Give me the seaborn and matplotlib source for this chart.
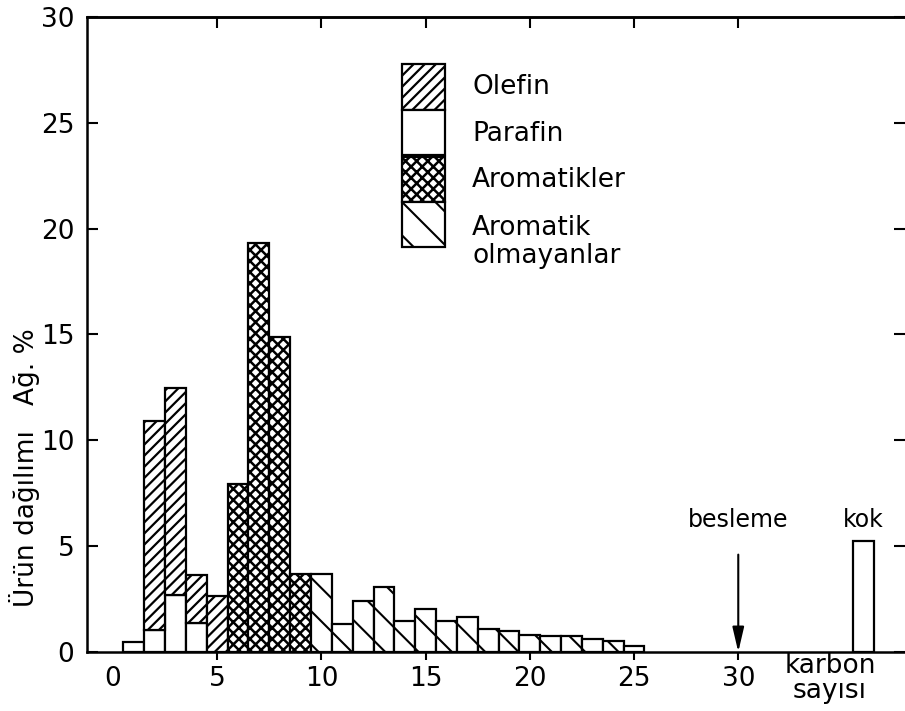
import matplotlib
matplotlib.use('Agg')
import matplotlib.pyplot as plt
from matplotlib.patches import Rectangle
import pandas as pd
import seaborn as sns

# weight-% per carbon number
paraffin_c = [1, 2, 3, 4]
paraffin = [0.45, 1.05, 2.7, 1.35]
olefin_c = [2, 3, 4, 5]
olefin = [9.85, 9.75, 2.3, 2.65]
aromatic_c = [6, 7, 8, 9]
aromatic = [7.95, 19.3, 14.9, 3.7]
nonarom_c = list(range(10, 26))
nonarom = [3.7, 1.3, 2.4, 3.05, 1.45, 2.05, 1.45, 1.65,
           1.1, 1.0, 0.8, 0.75, 0.75, 0.6, 0.5, 0.3]
coke_c = [36]
coke = [5.25]
feed_c = 30

legend_labels = ['Olefin', 'Parafin', 'Aromatikler', 'Aromatik\nolmayanlar']
legend_hatch = ['///', '', 'xxx', '\\']
xticks = [0, 5, 10, 15, 20, 25, 30]
yticks = [0, 5, 10, 15, 20, 25, 30]

sns.set_style('ticks')
plt.rcParams['font.family'] = ['DejaVu Sans']
plt.rcParams['hatch.color'] = 'black'
for k in ['text.color', 'axes.labelcolor', 'xtick.color', 'ytick.color',
          'axes.edgecolor']:
    plt.rcParams[k] = 'black'

fig = plt.figure(figsize=(9.05, 7.11), dpi=100)
ax = fig.add_axes([0.0961, 0.083, 0.9039, 0.8931])

hatch_lw = {'': 1.0, '///': 1.6, 'xxx': 1.8, '\\': 1.5}


def layer(cs, vals, hatch, bottom=None):
    plt.rcParams['hatch.linewidth'] = hatch_lw[hatch]
    n0 = len(ax.patches)
    df = pd.DataFrame({'c': cs, 'v': vals})
    kw = {} if bottom is None else {'bottom': bottom}
    sns.barplot(data=df, x='c', y='v', native_scale=True, width=1,
                color='white', saturation=1, edgecolor='black',
                linewidth=1.6, errorbar=None, hatch=hatch, ax=ax, **kw)
    for p in ax.patches[n0:]:
        if hasattr(p, 'set_hatch_linewidth'):
            p.set_hatch_linewidth(hatch_lw[hatch])


par_lookup = dict(zip(paraffin_c, paraffin))
layer(paraffin_c, paraffin, '')
layer(olefin_c, olefin, '///', bottom=[par_lookup.get(c, 0) for c in olefin_c])
layer(aromatic_c, aromatic, 'xxx')
layer(nonarom_c, nonarom, '\\')
layer(coke_c, coke, '')
plt.rcParams['hatch.linewidth'] = 1.6

ax.set_xlim(-1.25, 38.0)
ax.set_ylim(0, 30)
ax.set_xticks(xticks)
ax.set_yticks(yticks)
ax.set_xticklabels([str(t) for t in xticks])
ax.set_yticklabels([str(t) for t in yticks])
ax.set_xlabel('')
ax.set_ylabel('Ürün dağılımı   Ağ. %', fontsize=19)
ax.yaxis.set_label_coords(-0.058, 0.291)

for s in ['left', 'bottom', 'top']:
    ax.spines[s].set_linewidth(1.8)
ax.spines['right'].set_visible(False)

ax.tick_params(axis='y', direction='in', length=8, width=1.5, left=True,
               right=True, labelsize=19, pad=9)
ax.tick_params(axis='x', direction='out', length=6, width=1.5,
               labelsize=19, pad=4)
ax.xaxis.get_major_ticks()[0].tick1line.set_visible(False)

top = ax.secondary_xaxis('top')
top.set_xticks(xticks[1:])
top.set_xticklabels([])
top.tick_params(direction='in', length=8, width=1.5)
top.spines['top'].set_linewidth(1.8)

# legend keys stacked as in the original
box_top = [0.926, 0.854, 0.780, 0.709]
text_y = [0.889, 0.815, 0.744, 0.646]
for h, yt, lab, ty in zip(legend_hatch, box_top, legend_labels, text_y):
    plt.rcParams['hatch.linewidth'] = hatch_lw[h]
    r = Rectangle((0.385, yt - 0.072), 0.0526, 0.072, transform=ax.transAxes,
                  facecolor='white', edgecolor='black', lw=1.6, hatch=h)
    if hasattr(r, 'set_hatch_linewidth'):
        r.set_hatch_linewidth(hatch_lw[h])
    ax.add_patch(r)
    ax.text(0.471, ty, lab, transform=ax.transAxes, ha='left', va='center',
            fontsize=19, linespacing=1.1)
plt.rcParams['hatch.linewidth'] = 1.6

# feed arrow and labels
ax.annotate('', xy=(feed_c, 0), xytext=(feed_c, 4.6),
            arrowprops=dict(arrowstyle='-|>,head_length=1.5,head_width=0.35',
                            color='black', lw=1.5, shrinkA=0, shrinkB=0))
ax.text(feed_c, 6.25, 'besleme', ha='center', va='center', fontsize=17)
ax.text(coke_c[0], 6.25, 'kok', ha='center', va='center', fontsize=17)
ax.text(34.4, -0.041, 'karbon\nsayısı', transform=ax.get_xaxis_transform(),
        ha='center', va='center', fontsize=19, linespacing=0.95)

fig.savefig('out.png', dpi=100)
